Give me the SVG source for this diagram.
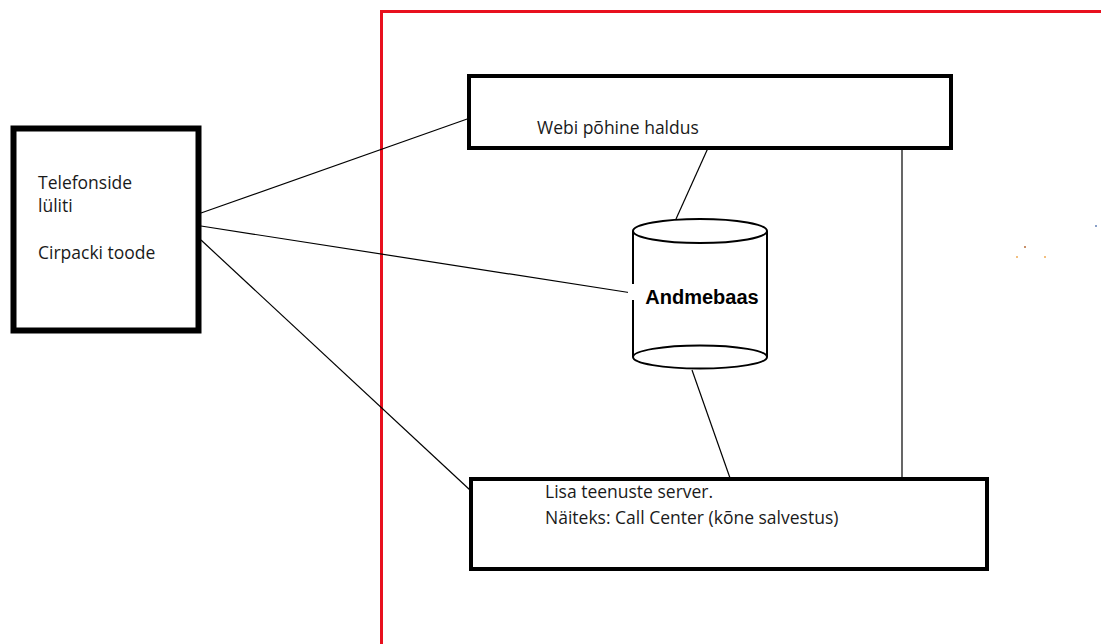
<svg xmlns="http://www.w3.org/2000/svg" width="1101" height="644" viewBox="0 0 1101 644">
<style>
.box{fill:#fff;stroke:#000}
.t{font-family:"Open Sans","Liberation Sans",sans-serif;font-size:17.5px;fill:#1a1a1a}
.c{stroke:#000;stroke-width:1.2;fill:none}
</style>
<rect width="1101" height="644" fill="#fff"/>
<g id="boundary">
<path d="M381.5,644 V11.5 H1101" fill="none" stroke="#e8101e" stroke-width="3"/>
</g>
<g id="connectors">
<line class="c" x1="201" y1="213" x2="470" y2="118"/>
<line class="c" x1="201" y1="226" x2="632" y2="293"/>
<line class="c" x1="201" y1="240" x2="470" y2="490"/>
<line class="c" x1="708" y1="148" x2="676" y2="219"/>
<line class="c" x1="692" y1="370" x2="730" y2="478"/>
<line class="c" x1="902" y1="150" x2="902" y2="478"/>
</g>
<g id="switch">
<rect class="box" x="13.5" y="128.5" width="185" height="202" stroke-width="6"/>
<text class="t" x="38" y="189">Telefonside</text>
<text class="t" x="38" y="212">lüliti</text>
<text class="t" x="38" y="259">Cirpacki toode</text>
</g>
<g id="web">
<rect class="box" x="469" y="76" width="482" height="72" stroke-width="4"/>
<text class="t" x="537" y="134">Webi põhine haldus</text>
</g>
<g id="db">
<path d="M633,231 V357 M767,231 V357" stroke="#000" stroke-width="2" fill="none"/>
<rect x="628" y="284" width="10" height="16" fill="#fff"/>
<ellipse cx="700" cy="231" rx="67" ry="12" fill="#fff" stroke="#000" stroke-width="2"/>
<path d="M633,357 A67,11.5 0 0 1 767,357 A67,11.5 0 0 1 633,357 Z" fill="#fff" stroke="#000" stroke-width="2"/>
<text x="702" y="304" text-anchor="middle" font-family="'Liberation Sans',sans-serif" font-weight="bold" font-size="20" fill="#000">Andmebaas</text>
</g>
<g id="server">
<rect class="box" x="471" y="479" width="516" height="90" stroke-width="4"/>
<text class="t" x="545" y="498">Lisa teenuste server.</text>
<text class="t" x="545" y="524">Näiteks: Call Center (kõne salvestus)</text>
</g>
<g id="specks">
<rect x="1024" y="246" width="2" height="2" fill="#c8906a"/>
<rect x="1016" y="256" width="2" height="2" fill="#f3c080"/>
<rect x="1044" y="256" width="2" height="2" fill="#f3c080"/>
<rect x="1095" y="225" width="2" height="2" fill="#8aa0c8"/>
</g>
</svg>
